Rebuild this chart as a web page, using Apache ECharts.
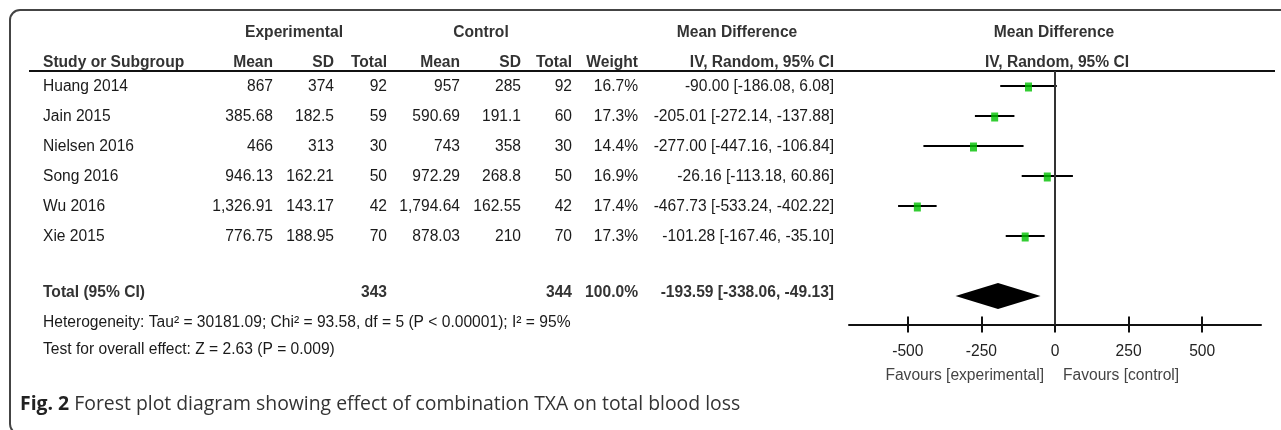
<!DOCTYPE html>
<html>
<head>
<meta charset="utf-8">
<title>Forest plot</title>
<script src="https://cdn.jsdelivr.net/npm/echarts@6/dist/echarts.min.js"></script>
<style>
  html, body { margin: 0; padding: 0; background: #fff; }
  #chart { width: 1281px; height: 430px; }
</style>
</head>
<body>
<div id="chart"></div>
<script>
// study rows
const studies = ['Huang 2014', 'Jain 2015', 'Nielsen 2016', 'Song 2016', 'Wu 2016', 'Xie 2015'];
const expMean = ['867', '385.68', '466', '946.13', '1,326.91', '776.75'];
const expSD = ['374', '182.5', '313', '162.21', '143.17', '188.95'];
const expN = [92, 59, 30, 50, 42, 70];
const ctlMean = ['957', '590.69', '743', '972.29', '1,794.64', '878.03'];
const ctlSD = ['285', '191.1', '358', '268.8', '162.55', '210'];
const ctlN = [92, 60, 30, 50, 42, 70];
const weights = ['16.7%', '17.3%', '14.4%', '16.9%', '17.4%', '17.3%'];
const md = [-90.00, -205.01, -277.00, -26.16, -467.73, -101.28];
const ciLow = [-186.08, -272.14, -447.16, -113.18, -533.24, -167.46];
const ciHigh = [6.08, -137.88, -106.84, 60.86, -402.22, -35.10];

// pooled
const totalExpN = 343;
const totalCtlN = 344;
const totalWeight = '100.0%';
const pooled = [-193.59, -338.06, -49.13];
const heterogeneity = 'Heterogeneity: Tau² = 30181.09; Chi² = 93.58, df = 5 (P < 0.00001); I² = 95%';
const overallTest = 'Test for overall effect: Z = 2.63 (P = 0.009)';

const tickValues = [-500, -250, 0, 250, 500];
const favours = ['Favours [experimental]', 'Favours [control]'];
const caption = ['Fig. 2', ' Forest plot diagram showing effect of combination TXA on total blood loss'];

const FONT = '"Liberation Sans", Arial, Helvetica, sans-serif';
const FS = 15.6;
const INK = '#1a1a1a';
const HEAD = '#333';

// right edges (left edge for the name column)
const col = { name: 43, expMean: 273, expSD: 334, expN: 387, ctlMean: 460, ctlSD: 521, ctlN: 572, weight: 638, ci: 834 };
const TOTAL_ROW = 7;
const GRID_H = 253.5;

function fmtCI(m, lo, hi) {
  return m.toFixed(2) + ' [' + lo.toFixed(2) + ', ' + hi.toFixed(2) + ']';
}

function txt(x, y, s, align, bold, color) {
  return {
    type: 'text',
    style: {
      x: x, y: y, text: String(s), align: align, verticalAlign: 'middle',
      fontSize: FS, fontFamily: FONT, fontWeight: bold ? 'bold' : 'normal', fill: color || INK
    }
  };
}

const chart = echarts.init(document.getElementById('chart'));

chart.setOption({
  animation: false,
  backgroundColor: '#fff',
  grid: { left: 849, right: 20, top: 71, height: GRID_H, containLabel: false },
  xAxis: [
    {
      type: 'value', min: -700, max: 700, position: 'bottom',
      axisLine: { show: true, onZero: false, lineStyle: { color: '#111', width: 2 } },
      axisTick: { show: true, customValues: tickValues, length: 8, lineStyle: { color: '#111', width: 2 } },
      axisLabel: { customValues: tickValues, margin: 19, fontSize: FS, fontFamily: FONT, color: '#222' },
      splitLine: { show: false }
    },
    {
      // second copy pulled down onto the axis line, for the upward half of the ticks
      type: 'value', min: -700, max: 700, position: 'top', offset: -GRID_H,
      axisLine: { show: false },
      axisTick: { show: true, customValues: tickValues, length: 8, lineStyle: { color: '#111', width: 2 } },
      axisLabel: { show: false },
      splitLine: { show: false }
    }
  ],
  yAxis: { type: 'value', inverse: true, min: -0.5, max: 7.95, show: false },
  series: [
    {
      // table body
      type: 'custom',
      data: studies.map((s, i) => [0, i]),
      renderItem: function (params, api) {
        const i = params.dataIndex;
        const y = api.coord([0, i])[1] + 1;
        return {
          type: 'group',
          children: [
            txt(col.name, y, studies[i], 'left'),
            txt(col.expMean, y, expMean[i], 'right'),
            txt(col.expSD, y, expSD[i], 'right'),
            txt(col.expN, y, expN[i], 'right'),
            txt(col.ctlMean, y, ctlMean[i], 'right'),
            txt(col.ctlSD, y, ctlSD[i], 'right'),
            txt(col.ctlN, y, ctlN[i], 'right'),
            txt(col.weight, y, weights[i], 'right'),
            txt(col.ci, y, fmtCI(md[i], ciLow[i], ciHigh[i]), 'right')
          ]
        };
      }
    },
    {
      // headers and footer lines
      type: 'custom',
      data: [[0, -1.77], [0, -0.77], [0, 6.88], [0, 7.88], [0, 8.78]],
      renderItem: function (params, api) {
        const y = api.coord([0, api.value(1)])[1];
        const k = params.dataIndex;
        let c = [];
        if (k === 0) {
          c = [
            txt(294, y, 'Experimental', 'center', true, HEAD),
            txt(481, y, 'Control', 'center', true, HEAD),
            txt(737, y, 'Mean Difference', 'center', true, HEAD),
            txt(1054, y, 'Mean Difference', 'center', true, HEAD)
          ];
        } else if (k === 1) {
          c = [
            txt(col.name, y, 'Study or Subgroup', 'left', true, HEAD),
            txt(col.expMean, y, 'Mean', 'right', true, HEAD),
            txt(col.expSD, y, 'SD', 'right', true, HEAD),
            txt(col.expN, y, 'Total', 'right', true, HEAD),
            txt(col.ctlMean, y, 'Mean', 'right', true, HEAD),
            txt(col.ctlSD, y, 'SD', 'right', true, HEAD),
            txt(col.ctlN, y, 'Total', 'right', true, HEAD),
            txt(col.weight, y, 'Weight', 'right', true, HEAD),
            txt(col.ci, y, 'IV, Random, 95% CI', 'right', true, HEAD),
            txt(1057, y, 'IV, Random, 95% CI', 'center', true, HEAD)
          ];
        } else if (k === 2) {
          c = [
            txt(col.name, y, 'Total (95% CI)', 'left', true, HEAD),
            txt(col.expN, y, totalExpN, 'right', true, HEAD),
            txt(col.ctlN, y, totalCtlN, 'right', true, HEAD),
            txt(col.weight, y, totalWeight, 'right', true, HEAD),
            txt(col.ci, y, fmtCI(pooled[0], pooled[1], pooled[2]), 'right', true, HEAD)
          ];
        } else if (k === 3) {
          c = [txt(col.name, y, heterogeneity, 'left')];
        } else {
          c = [txt(col.name, y, overallTest, 'left')];
        }
        return { type: 'group', children: c };
      }
    },
    {
      // confidence intervals
      type: 'custom',
      data: md.map((m, i) => [ciLow[i], ciHigh[i], i]),
      encode: { x: [0, 1], y: 2 },
      renderItem: function (params, api) {
        const a = api.coord([api.value(0), api.value(2)]);
        const b = api.coord([api.value(1), api.value(2)]);
        return {
          type: 'line',
          shape: { x1: a[0], y1: a[1], x2: b[0], y2: b[1] },
          style: { stroke: '#000', lineWidth: 2 }
        };
      },
      z: 2
    },
    {
      // point estimates
      type: 'scatter',
      data: md.map((m, i) => [m, i]),
      symbol: 'rect',
      symbolSize: [7, 9],
      symbolOffset: [0, 1],
      itemStyle: { color: '#00c000' },
      z: 3,
      markLine: {
        silent: true,
        symbol: 'none',
        label: { show: false },
        lineStyle: { color: '#333', width: 2, type: 'solid' },
        data: [{ xAxis: 0 }]
      }
    },
    {
      // pooled diamond
      type: 'custom',
      data: [[pooled[1], pooled[2], pooled[0], TOTAL_ROW]],
      encode: { x: [0, 1, 2], y: 3 },
      renderItem: function (params, api) {
        const l = api.coord([api.value(0), api.value(3)]);
        const r = api.coord([api.value(1), api.value(3)]);
        const m = api.coord([api.value(2), api.value(3)]);
        return {
          type: 'polygon',
          shape: { points: [[l[0], l[1]], [m[0], m[1] - 13], [r[0], r[1]], [m[0], m[1] + 13]] },
          style: { fill: '#000' }
        };
      },
      z: 3
    }
  ]
});

const zeroX = chart.convertToPixel({ xAxisIndex: 0 }, 0);

chart.setOption({
  graphic: [
    {
      type: 'rect', silent: true, z: 0,
      shape: { x: 10, y: 10, width: 1300, height: 424, r: 10 },
      style: { fill: 'none', stroke: '#444', lineWidth: 2 }
    },
    {
      type: 'line', silent: true,
      shape: { x1: 29, y1: 71, x2: 1275, y2: 71 },
      style: { stroke: '#111', lineWidth: 2 }
    },
    {
      type: 'text', silent: true,
      style: { x: zeroX - 11, y: 376, text: favours[0], align: 'right', verticalAlign: 'middle', fontSize: FS, fontFamily: FONT, fill: '#444' }
    },
    {
      type: 'text', silent: true,
      style: { x: zeroX + 8, y: 376, text: favours[1], align: 'left', verticalAlign: 'middle', fontSize: FS, fontFamily: FONT, fill: '#444' }
    },
    {
      type: 'text', silent: true,
      style: {
        x: 20, y: 404, verticalAlign: 'middle',
        text: '{b|' + caption[0] + '}{r|' + caption[1] + '}',
        rich: {
          b: { fontSize: 19.4, fontFamily: '"Open Sans", sans-serif', fontWeight: 'bold', fill: '#222' },
          r: { fontSize: 19.4, fontFamily: '"Open Sans", sans-serif', fill: '#333' }
        }
      }
    }
  ]
});
</script>
</body>
</html>
